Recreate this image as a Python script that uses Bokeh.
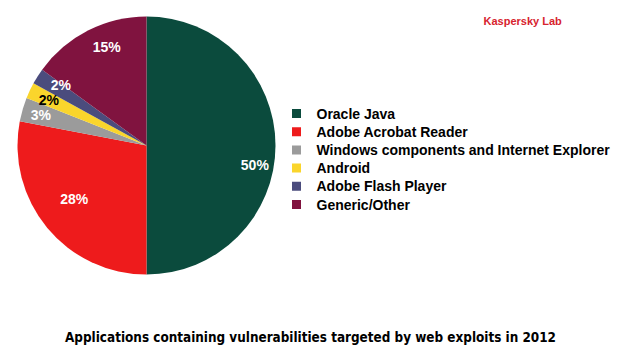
import numpy as np
from bokeh.plotting import figure
from bokeh.models import Range1d
from bokeh.core.properties import value
from bokeh.embed import file_html
from bokeh.resources import INLINE

categories = ["Oracle Java", "Adobe Acrobat Reader", "Windows components and Internet Explorer",
              "Android", "Adobe Flash Player", "Generic/Other"]
shares = [50, 28, 3, 2, 2, 15]
labels = ["50%", "28%", "3%", "2%", "2%", "15%"]
colors = ["#0b4b3d", "#ee1b1c", "#9b9b9b", "#fad52c", "#4b4c7d", "#80133f"]
label_colors = ["white", "white", "white", "black", "white", "white"]
label_radius = [110, 90, 110, 108, 105, 106]
label_nudge_deg = [-10, -3, 0, 0, -3, -5]

W, H = 619, 350
p = figure(width=W, height=H, output_backend="svg", toolbar_location=None,
           x_range=Range1d(0, W), y_range=Range1d(0, H), min_border=0)
p.axis.visible = False
p.grid.visible = False
p.outline_line_color = None
p.background_fill_color = "white"

cx, cy, R = 146, H - 145, 129
vals = np.array(shares, dtype=float)
frac = vals / vals.sum()
c1 = np.cumsum(frac)
c0 = c1 - frac
start = np.pi / 2 - 2 * np.pi * c0
end = np.pi / 2 - 2 * np.pi * c1
p.wedge(x=cx, y=cy, radius=R, radius_units="screen", start_angle=list(start), end_angle=list(end),
        direction="clock", fill_color=colors, line_color=None)

mid = (start + end) / 2 + np.radians(label_nudge_deg)
lx = cx + np.array(label_radius) * np.cos(mid)
ly = cy + np.array(label_radius) * np.sin(mid)
p.text(x=list(lx), y=list(ly), text=labels, text_color=label_colors,
       text_font=value("Liberation Sans"), text_font_style="bold", text_font_size="14px",
       text_align="center", text_baseline="middle")

# legend
ly0, dy = H - 113, 18.2
rows = np.arange(len(categories))
p.rect(x=[296] * len(rows), y=list(ly0 - dy * rows), width=9, height=9, fill_color=colors, line_color=None)
p.text(x=[316] * len(rows), y=list(ly0 - dy * rows), text=categories, text_color="black",
       text_font=value("Liberation Sans"), text_font_style="bold", text_font_size="14px",
       text_align="left", text_baseline="middle")

p.text(x=[483], y=[H - 20], text=["Kaspersky Lab"], text_color="#d7232e",
       text_font=value("Liberation Sans"), text_font_style="bold", text_font_size="11px",
       text_align="left", text_baseline="middle")

p.text(x=[310], y=[H - 337], text=["Applications containing vulnerabilities targeted by web exploits in 2012"],
       text_color="black", text_font=value("DejaVu Sans Condensed"), text_font_style="bold",
       text_font_size="13.4px", text_align="center", text_baseline="middle")

open("out.html", "w").write(file_html(p, INLINE))
